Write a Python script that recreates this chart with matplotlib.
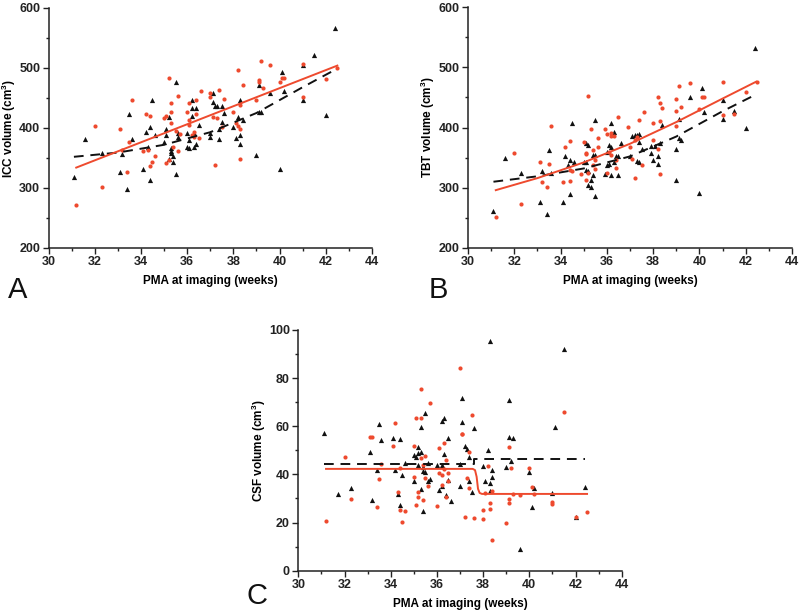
import numpy as np
import matplotlib
matplotlib.use("Agg")
import matplotlib.pyplot as plt
from matplotlib.ticker import MultipleLocator

plt.rcParams["font.family"] = ["Liberation Sans", "DejaVu Sans"]
plt.rcParams["mathtext.fontset"] = "custom"
plt.rcParams["mathtext.rm"] = "Liberation Sans"
plt.rcParams["mathtext.bf"] = "Liberation Sans:bold"

RED = "#ee4a2e"
BLK = "#111111"

# Panel A - ICC volume
a_blk_x = [31.1, 31.6, 32.3, 33.1, 33.2, 33.4, 33.5, 33.6, 34.1, 34.2, 34.3, 34.4, 34.4, 34.5, 34.6,
           35.0, 35.1, 35.1, 35.2, 35.2, 35.3, 35.3, 35.3, 35.4, 35.4, 35.5, 35.5, 35.6, 35.6,
           36.0, 36.0, 36.1, 36.1, 36.2, 36.2, 36.2, 36.3, 36.3, 36.4, 36.4, 36.5,
           37.0, 37.0, 37.1, 37.1, 37.2, 37.3, 37.4, 37.4, 37.5, 37.5, 37.6,
           38.0, 38.1, 38.2, 38.3, 38.3, 38.3, 38.4, 39.0, 39.1, 39.1, 39.2, 39.6,
           40.0, 40.1, 40.2, 41.0, 41.0, 41.5, 42.0, 42.4]
a_blk_y = [319, 381, 358, 326, 357, 298, 424, 381, 332, 394, 368, 314, 401, 447, 388,
           376, 388, 399, 348, 419, 366, 361, 358, 344, 353, 324, 477, 385, 391,
           391, 369, 380, 366, 447, 434, 420, 369, 391, 434, 374, 405,
           392, 385, 459, 444, 437, 436, 399, 381, 410, 437, 425,
           402, 384, 419, 447, 388, 373, 414, 355, 472, 427, 427, 459,
           332, 493, 461, 505, 447, 521, 422, 566]
a_red_x = [31.2, 32.0, 32.3, 33.1, 33.2, 33.4, 33.5, 33.6, 34.1, 34.2, 34.3, 34.4, 34.4, 34.5, 34.6,
           35.0, 35.1, 35.1, 35.2, 35.2, 35.3, 35.3, 35.3, 35.4, 35.5, 35.6, 35.6, 35.7,
           36.0, 36.1, 36.1, 36.1, 36.2, 36.3, 36.3, 36.4, 36.4, 36.5, 36.6,
           37.0, 37.0, 37.1, 37.2, 37.3, 37.4, 37.5, 37.6,
           38.0, 38.1, 38.2, 38.2, 38.3, 38.3, 38.3, 38.4,
           39.0, 39.1, 39.1, 39.2, 39.3, 39.6, 40.0, 40.1, 40.2, 41.0, 41.0, 42.0, 42.5]
a_red_y = [271, 403, 302, 398, 364, 326, 377, 447, 361, 424, 363, 420, 337, 344, 353,
           416, 341, 420, 484, 347, 441, 427, 408, 369, 395, 361, 453, 390,
           426, 413, 441, 405, 388, 385, 394, 447, 424, 383, 462,
           451, 458, 419, 338, 416, 463, 402, 448,
           427, 408, 403, 496, 398, 349, 438, 472,
           447, 480, 477, 512, 466, 505, 476, 483, 483, 451, 506, 482, 500]
a_fit_red_x = [31.2, 42.5]
a_fit_red_y = [334, 504]
a_fit_blk_x = [31.1, 33, 35, 37, 39, 41, 42.4]
a_fit_blk_y = [352, 359, 372, 393, 425, 468, 497]

# Panel B - TBT volume
b_blk_x = [31.1, 31.6, 32.3, 33.1, 33.2, 33.4, 33.5, 33.6, 34.1, 34.2, 34.3, 34.4, 34.4, 34.5, 34.6,
           35.0, 35.1, 35.1, 35.1, 35.2, 35.2, 35.2, 35.3, 35.3, 35.4, 35.4, 35.5, 35.5, 35.5,
           35.9, 36.0, 36.0, 36.1, 36.1, 36.2, 36.2, 36.2, 36.3, 36.3, 36.4, 36.5, 36.5, 36.6,
           37.0, 37.1, 37.2, 37.3, 37.3, 37.4, 37.4, 37.4, 37.5,
           37.9, 37.9, 38.0, 38.1, 38.2, 38.2, 38.3, 38.4,
           39.0, 39.0, 39.1, 39.2, 39.1, 39.6, 40.0, 40.1, 40.2, 41.0, 41.0, 41.5, 42.0, 42.4]
b_blk_y = [262, 349, 325, 277, 328, 257, 363, 325, 277, 353, 337, 289, 346, 407, 343,
           343, 329, 343, 374, 305, 371, 328, 301, 313, 321, 354, 412, 287, 354,
           323, 360, 338, 371, 340, 407, 368, 321, 342, 393, 352, 321, 352, 375,
           352, 386, 387, 344, 387, 342, 376, 389, 365,
           369, 358, 346, 369, 340, 353, 375, 404,
           313, 364, 382, 379, 414, 451, 292, 466, 426, 446, 414, 428, 400, 532]
b_red_x = [31.2, 32.0, 32.3, 33.1, 33.2, 33.4, 33.5, 33.6, 34.1, 34.2, 34.4, 34.4, 34.4, 34.5,
           34.9, 35.0, 35.1, 35.1, 35.1, 35.2, 35.2, 35.3, 35.4, 35.4, 35.5, 35.5, 35.6, 35.6,
           35.9, 36.0, 36.0, 36.1, 36.2, 36.2, 36.2, 36.3, 36.4, 36.4, 36.5,
           36.9, 37.0, 37.1, 37.2, 37.2, 37.3, 37.4, 37.5, 37.6,
           38.0, 38.0, 38.2, 38.2, 38.3, 38.3, 38.3, 38.4,
           39.0, 39.0, 39.0, 39.1, 39.2, 39.6, 40.0, 40.1, 40.2, 41.0, 41.0, 41.5, 42.0, 42.5]
b_red_y = [251, 357, 273, 343, 309, 301, 339, 402, 310, 367, 312, 378, 329, 327,
           323, 376, 313, 356, 358, 452, 324, 397, 363, 338, 346, 331, 383, 368,
           397, 390, 324, 360, 386, 355, 391, 386, 332, 346, 417,
           401, 368, 347, 316, 379, 385, 412, 337, 425,
           407, 379, 451, 365, 323, 411, 440, 433,
           402, 427, 447, 469, 434, 474, 431, 450, 450, 475, 421, 422, 459, 476]
b_fit_red_x = [31.2, 33, 35, 37, 39, 41, 42.45]
b_fit_red_y = [296, 316, 342, 373, 409, 448, 476]
b_fit_blk_x = [31.1, 33, 35, 37, 39, 41, 42.35]
b_fit_blk_y = [310, 319, 332, 352, 385, 427, 453]

# Panel C - CSF volume
c_blk_x = [31.1, 31.7, 32.3, 33.1, 33.2, 33.4, 33.5, 33.6, 34.1, 34.2, 34.3, 34.4, 34.4, 34.5, 34.6,
           35.0, 35.0, 35.1, 35.2, 35.2, 35.2, 35.3, 35.3, 35.3, 35.4, 35.4, 35.4, 35.5, 35.5,
           35.6, 35.6, 35.7, 36.0, 36.1, 36.2, 36.2, 36.2, 36.3, 36.3, 36.4, 36.5, 36.5, 36.6,
           37.0, 37.0, 37.1, 37.1, 37.2, 37.3, 37.4, 37.4, 37.5, 37.6,
           38.0, 38.1, 38.2, 38.3, 38.3, 38.3, 38.4, 38.4,
           39.0, 39.1, 39.1, 39.2, 39.3, 39.6, 40.0, 40.1, 40.2, 41.0, 41.1, 41.5, 42.0, 42.4]
c_blk_y = [57.1, 31.8, 34.2, 49.5, 29.5, 41.9, 60.9, 54.4, 55.3, 41.9, 31.8, 54.6, 27.1, 39.8, 44.7,
           48.1, 37.1, 47.4, 44.0, 51.3, 48.8, 49.5, 59.9, 33.9, 42.9, 41.5, 24.6, 40.8, 65.4,
           44.7, 37.1, 38.2, 44.0, 33.6, 62.0, 44.0, 35.0, 63.3, 48.4, 31.3, 37.8, 55.0, 28.8,
           35.0, 44.3, 71.9, 61.7, 51.6, 50.5, 37.3, 47.4, 32.9, 59.2,
           43.7, 37.1, 50.2, 95.6, 36.4, 33.2, 41.9, 39.1,
           42.9, 71.0, 55.5, 45.4, 55.3, 9.0, 40.8, 26.6, 34.4, 32.4, 59.5, 92.0, 22.2, 34.9]
c_red_x = [31.2, 32.0, 32.3, 33.1, 33.2, 33.4, 33.5, 33.6, 34.1, 34.2, 34.3, 34.4, 34.5, 34.6, 34.4,
           35.0, 35.0, 35.1, 35.1, 35.2, 35.2, 35.3, 35.3, 35.3, 35.4, 35.4, 35.5, 35.5, 35.6, 35.7,
           36.0, 36.1, 36.1, 36.2, 36.2, 36.3, 36.3, 36.4, 36.4, 36.5, 36.5,
           37.0, 37.1, 37.1, 37.2, 37.3, 37.4, 37.4, 37.5, 37.6,
           38.0, 38.0, 38.1, 38.2, 38.3, 38.3, 38.4, 38.4,
           39.0, 39.1, 39.1, 39.1, 39.2, 39.3, 39.6,
           40.0, 40.1, 40.2, 41.0, 41.0, 41.5, 42.0, 42.5]
c_red_y = [20.7, 47.3, 29.7, 55.5, 55.5, 26.4, 38.0, 44.4, 52.0, 61.3, 32.5, 25.3, 20.1, 24.6, 42.6,
           52.0, 39.1, 63.3, 27.1, 32.5, 30.8, 46.8, 75.4, 63.3, 44.0, 29.5, 47.7, 38.7, 35.0, 69.6,
           27.0, 50.9, 40.5, 39.8, 35.7, 53.0, 42.2, 30.8, 46.1, 37.3, 40.5,
           84.1, 56.7, 56.7, 22.5, 38.5, 49.5, 34.3, 64.7, 22.1,
           21.6, 25.3, 32.2, 43.3, 28.1, 25.6, 33.2, 12.6,
           19.8, 51.2, 29.7, 28.1, 42.6, 31.8, 31.3,
           42.6, 34.6, 31.9, 28.7, 27.7, 65.9, 22.5, 24.5]
c_fit_red_x = [31.2, 37.55, 37.65, 37.72, 37.78, 37.85, 37.95, 42.5]
c_fit_red_y = [42.3, 42.3, 41.8, 39.0, 34.0, 32.3, 31.9, 31.9]
c_fit_blk_x = [31.1, 37.6, 37.6, 42.4]
c_fit_blk_y = [44.4, 44.4, 46.3, 46.3]

W, H = 800, 612
fig = plt.figure(figsize=(W / 100, H / 100), dpi=100)


def add_panel(box, xr, yr, ymajor, yminor, ylabel, letter, letter_pos,
              bx, by, rx, ry, fbx, fby, frx, fry):
    l, t, r, b = box
    ax = fig.add_axes([l / W, 1 - b / H, (r - l) / W, (b - t) / H])
    ax.scatter(bx, by, marker="^", s=14, color=BLK, linewidths=0, zorder=3)
    ax.scatter(rx, ry, marker="o", s=9, color=RED, linewidths=0, zorder=3)
    ax.plot(fbx, fby, color=BLK, lw=1.4, ls=(0, (5, 3.5)), zorder=4)
    ax.plot(frx, fry, color=RED, lw=1.4, zorder=4)
    ax.set_xlim(*xr)
    ax.set_ylim(*yr)
    ax.xaxis.set_major_locator(MultipleLocator(2))
    ax.xaxis.set_minor_locator(MultipleLocator(1))
    ax.yaxis.set_major_locator(MultipleLocator(ymajor))
    ax.yaxis.set_minor_locator(MultipleLocator(yminor))
    for s in ["top", "right"]:
        ax.spines[s].set_visible(False)
    for s in ["left", "bottom"]:
        ax.spines[s].set_linewidth(1.1)
        ax.spines[s].set_color("#222222")
    ax.tick_params(which="major", direction="out", length=4, width=1, colors="#222222",
                   labelsize=9, pad=2)
    ax.tick_params(which="minor", direction="out", length=2.5, width=1, colors="#222222")
    for lab in ax.get_xticklabels() + ax.get_yticklabels():
        lab.set_fontweight("bold")
    ax.set_xlabel("PMA at imaging (weeks)", fontsize=8.5, fontweight="bold", labelpad=5)
    ax.set_ylabel(ylabel, fontsize=8.5, fontweight="bold", labelpad=1)
    fig.text(letter_pos[0] / W, 1 - letter_pos[1] / H, letter, fontsize=21,
             ha="left", va="baseline", color="#111111")
    return ax


add_panel((48.5, 8, 372, 248), (30, 44), (200, 600), 100, 50,
          r"ICC volume (cm$^\mathbf{3}$)", "A", (8, 298),
          a_blk_x, a_blk_y, a_red_x, a_red_y,
          a_fit_blk_x, a_fit_blk_y, a_fit_red_x, a_fit_red_y)
add_panel((468, 7, 792, 248), (30, 44), (200, 600), 100, 50,
          r"TBT volume (cm$^\mathbf{3}$)", "B", (429, 298),
          b_blk_x, b_blk_y, b_red_x, b_red_y,
          b_fit_blk_x, b_fit_blk_y, b_fit_red_x, b_fit_red_y)
add_panel((298.3, 330, 621.7, 570.7), (30, 44), (0, 100), 20, 10,
          r"CSF volume (cm$^\mathbf{3}$)", "C", (246, 604),
          c_blk_x, c_blk_y, c_red_x, c_red_y,
          c_fit_blk_x, c_fit_blk_y, c_fit_red_x, c_fit_red_y)

fig.savefig("out.png", dpi=100)
